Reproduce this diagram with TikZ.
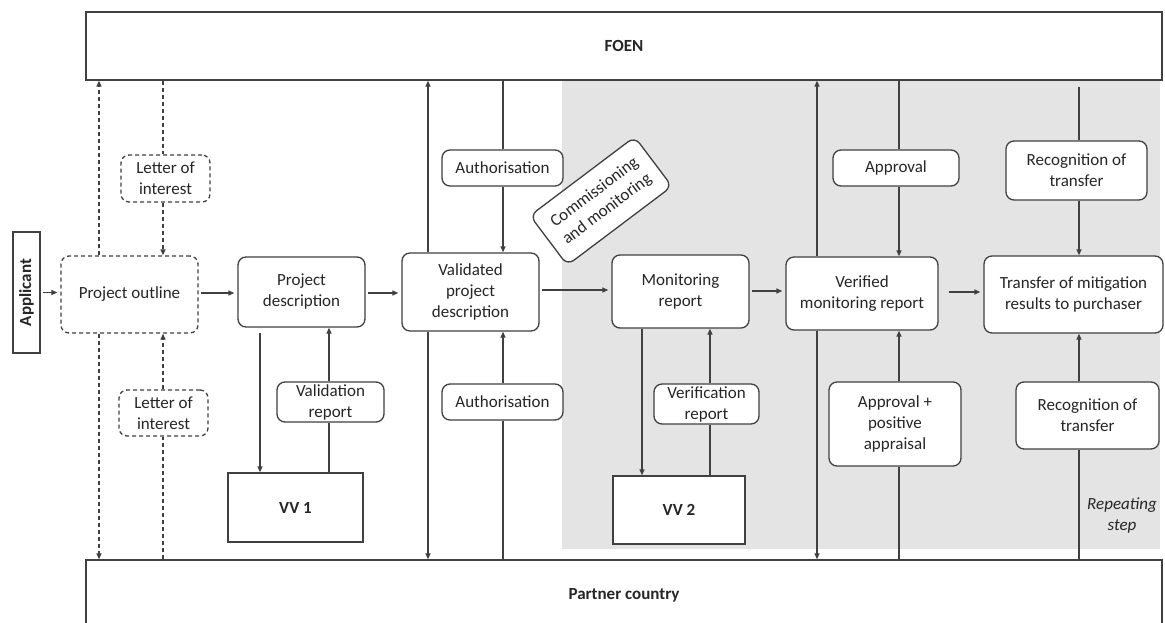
\documentclass[tikz,border=0pt]{standalone}
\usepackage{fontspec}
\setmainfont{Carlito}
\usetikzlibrary{arrows.meta,calc}
\definecolor{lc}{HTML}{404040}
\definecolor{greyarea}{HTML}{E4E4E4}
\begin{document}
\begin{tikzpicture}[x=1pt,y=-1pt,
  every node/.style={font=\fontsize{17}{21}\selectfont, text=black!85},
  box/.style={draw=lc, line width=1.3pt, rounded corners=8pt, fill=white, align=center, inner sep=2pt},
  sq/.style={draw=lc, line width=1.3pt, fill=white, align=center, inner sep=2pt, font=\fontsize{17}{21}\selectfont\bfseries},
  dbox/.style={box, dash pattern=on 4pt off 3pt},
  ln/.style={draw=lc, line width=1.3pt},
  arr/.style={ln, -{Triangle[length=6pt,width=5pt]}},
  darr/.style={arr, dash pattern=on 4pt off 3pt},
  dln/.style={ln, dash pattern=on 4pt off 3pt},
  harr/.style={arr, shorten >=3pt, shorten <=2pt}
]
\clip (0,0) rectangle (1165,622);
\useasboundingbox (0,0) rectangle (1165,622);
\fill[white] (0,0) rectangle (1165,622);
% shaded region
\fill[greyarea] (562,80) rectangle (1160,549);

% big boxes
\node[sq, minimum width=1076pt, minimum height=68pt] (foen) at (624,46) {FOEN};
\node[sq, minimum width=1076pt, minimum height=70pt] (partner) at (624,595) {Partner country};
\node[sq, rotate=90, minimum width=121pt, minimum height=27pt] (app) at (26.5,292.5) {Applicant};

% process boxes
\node[dbox, minimum width=137pt, minimum height=77pt] (po) at (129.5,294.5) {Project outline};
\node[dbox, minimum width=89pt, minimum height=47pt] (loi1) at (165.5,178.5) {Letter of\\interest};
\node[dbox, minimum width=89pt, minimum height=46pt] (loi2) at (163.5,413) {Letter of\\interest};
\node[box, minimum width=127pt, minimum height=70pt] (pd) at (301.5,292) {Project\\description};
\node[sq, minimum width=135pt, minimum height=69pt] (vv1) at (295.5,507.5) {VV 1};
\node[box, minimum width=107pt, minimum height=40pt] (vr1) at (330.5,402) {Validation\\report};
\node[box, minimum width=137pt, minimum height=78pt] (vpd) at (470.5,292) {Validated\\project\\description};
\node[box, minimum width=121pt, minimum height=36pt] (auth1) at (502.5,168) {Authorisation};
\node[box, minimum width=121pt, minimum height=36pt] (auth2) at (502.5,402) {Authorisation};
\node[box, rotate=37, minimum width=131pt, minimum height=62pt] (cm) at (601,201) {Commissioning\\and monitoring};
\node[box, minimum width=137pt, minimum height=73pt] (mr) at (680.5,291.5) {Monitoring\\report};
\node[sq, minimum width=132pt, minimum height=68pt] (vv2) at (679,510) {VV 2};
\node[box, minimum width=105pt, minimum height=40pt] (ver) at (706.5,404) {Verification\\report};
\node[box, minimum width=152pt, minimum height=73pt] (vmr) at (862,293.5) {Verified\\monitoring report};
\node[box, minimum width=126pt, minimum height=36pt] (appr) at (896,168) {Approval};
\node[box, minimum width=132pt, minimum height=84pt] (appr2) at (895,424) {Approval +\\positive\\appraisal};
\node[box, minimum width=179pt, minimum height=77pt] (tr) at (1073.5,294.5) {Transfer of mitigation\\results to purchaser};
\node[box, minimum width=141pt, minimum height=59pt] (rec1) at (1076.5,170.5) {Recognition of\\transfer};
\node[box, minimum width=143pt, minimum height=67pt] (rec2) at (1087.5,415.5) {Recognition of\\transfer};
\node[align=center, font=\fontsize{17}{21}\selectfont\itshape] (rep) at (1122,515) {Repeating\\step};

% x positions of vertical connectors
\coordinate (xa) at (99,0);
\coordinate (xb) at (163,0);
\coordinate (xc) at (260,0);
\coordinate (xd) at (329,0);
\coordinate (xe) at (428,0);
\coordinate (xf) at (503,0);
\coordinate (xg) at (642,0);
\coordinate (xh) at (710,0);
\coordinate (xi) at (817,0);
\coordinate (xj) at (899,0);
\coordinate (xk) at (1079,0);

% horizontal flow
\draw[harr] (app.south) -- (app.south -| po.west);
\draw[harr] (po.east |- 0,293) -- (pd.west |- 0,293);
\draw[harr] (pd.east |- 0,293) -- (vpd.west |- 0,293);
\draw[harr] (vpd.east |- 0,290) -- (mr.west |- 0,290);
\draw[harr] (mr.east |- 0,291) -- (vmr.west |- 0,291);
\draw[harr, shorten <=10pt] (vmr.east |- 0,292) -- (tr.west |- 0,292);

% project outline
\draw[darr] (po.north -| xa) -- (foen.south -| xa);
\draw[dln] (foen.south -| xb) -- (loi1.north -| xb);
\draw[darr] (loi1.south -| xb) -- (po.north -| xb);
\draw[darr] (po.south -| xa) -- (partner.north -| xa);
\draw[dln] (partner.north -| xb) -- (loi2.south -| xb);
\draw[darr] (loi2.north -| xb) -- (po.south -| xb);

% project description / VV1
\draw[arr, shorten <=5pt] (pd.south -| xc) -- (vv1.north -| xc);
\draw[ln] (vv1.north -| xd) -- (vr1.south -| xd);
\draw[arr] (vr1.north -| xd) -- (pd.south -| xd);

% validated project description
\draw[arr] (vpd.north -| xe) -- (foen.south -| xe);
\draw[arr] (vpd.south -| xe) -- (partner.north -| xe);
\draw[ln] (foen.south -| xf) -- (auth1.north -| xf);
\draw[arr] (auth1.south -| xf) -- (vpd.north -| xf);
\draw[ln] (partner.north -| xf) -- (auth2.south -| xf);
\draw[arr] (auth2.north -| xf) -- (vpd.south -| xf);

% monitoring report / VV2
\draw[arr] (mr.south -| xg) -- (vv2.north -| xg);
\draw[ln] (vv2.north -| xh) -- (ver.south -| xh);
\draw[arr] (ver.north -| xh) -- (mr.south -| xh);

% verified monitoring report
\draw[arr] (vmr.north -| xi) -- (foen.south -| xi);
\draw[arr] (vmr.south -| xi) -- (partner.north -| xi);
\draw[ln] (foen.south -| xj) -- (appr.north -| xj);
\draw[arr] (appr.south -| xj) -- (vmr.north -| xj);
\draw[ln] (partner.north -| xj) -- (appr2.south -| xj);
\draw[arr] (appr2.north -| xj) -- (vmr.south -| xj);

% transfer
\draw[ln, shorten <=6pt] (foen.south -| xk) -- (rec1.north -| xk);
\draw[arr] (rec1.south -| xk) -- (tr.north -| xk);
\draw[ln] (partner.north -| xk) -- (rec2.south -| xk);
\draw[arr] (rec2.north -| xk) -- (tr.south -| xk);
\end{tikzpicture}
\end{document}
